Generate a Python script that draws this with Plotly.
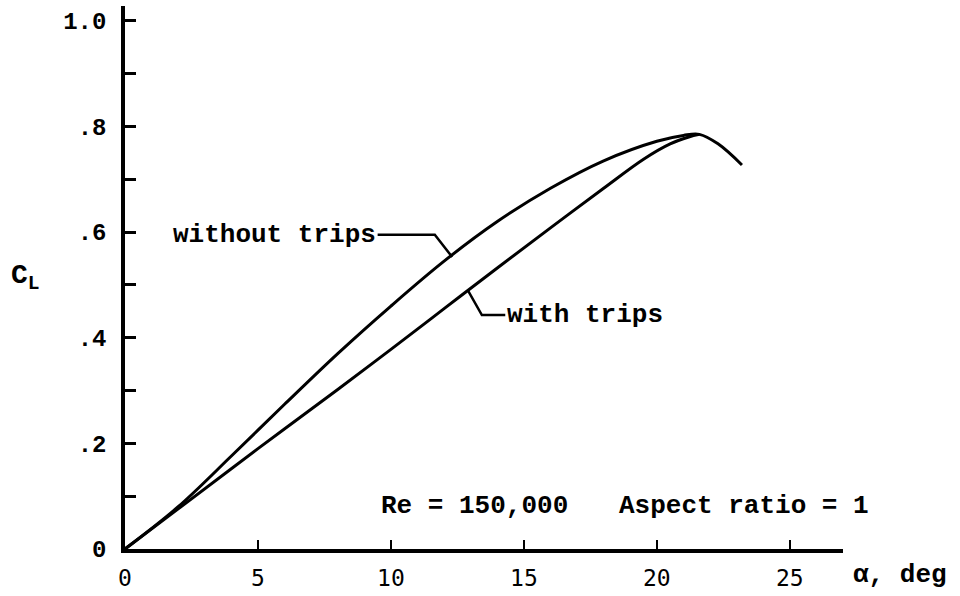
import plotly.graph_objects as go

# ---- data ----
alpha_without = [0, 2.0, 4.0, 6.0, 8.0, 10.0, 12.0, 14.0, 16.0, 18.0, 20.0, 21.0, 21.6, 22.3, 23.2]
cl_without    = [0, 0.080, 0.176, 0.274, 0.370, 0.460, 0.545, 0.620, 0.683, 0.735, 0.772, 0.783, 0.785, 0.767, 0.727]

alpha_with = [0, 2.0, 5.0, 8.0, 10.0, 12.0, 14.0, 16.0, 18.0, 19.5, 20.5, 21.2, 21.6]
cl_with    = [0, 0.076, 0.190, 0.302, 0.378, 0.455, 0.532, 0.608, 0.683, 0.738, 0.767, 0.780, 0.785]

y_tickvals = [0, 0.2, 0.4, 0.6, 0.8, 1.0]
y_ticktext = ["0", ".2", ".4", ".6", ".8", "1.0"]
x_tickvals = [0, 5, 10, 15, 20, 25]
x_ticktext = ["0", "5", "10", "15", "20", "25"]

label_without = "without trips"
label_with = "with trips"
note_re = "Re = 150,000"
note_ar = "Aspect ratio = 1"

# annotation anchor points (data coords)
without_leader = [(9.50, 0.595), (11.65, 0.595), (12.3, 0.553)]
with_leader = [(12.9, 0.489), (13.42, 0.443), (14.30, 0.443)]

MONO = "Liberation Mono"

fig = go.Figure()
for xs, ys in [(alpha_without, cl_without), (alpha_with, cl_with)]:
    fig.add_trace(go.Scatter(x=xs, y=ys, mode="lines",
                             line=dict(color="black", width=3, shape="spline", smoothing=1.0),
                             showlegend=False, hoverinfo="skip"))

def path(pts):
    return "M " + " L ".join(f"{x},{y}" for x, y in pts)

for pts in (without_leader, with_leader):
    fig.add_shape(type="path", path=path(pts), xref="x", yref="y",
                  line=dict(color="black", width=2.5))

tfont = dict(family=MONO, size=26, color="black", weight="bold")
fig.add_annotation(x=without_leader[0][0], y=without_leader[0][1], text=label_without,
                   xanchor="right", yanchor="middle", showarrow=False, font=tfont)
fig.add_annotation(x=with_leader[2][0], y=with_leader[2][1], text=label_with,
                   xanchor="left", yanchor="middle", showarrow=False, font=tfont)
fig.add_annotation(x=9.55, y=0.081, text=note_re, xanchor="left", yanchor="middle",
                   showarrow=False, font=tfont)
fig.add_annotation(x=18.5, y=0.081, text=note_ar, xanchor="left", yanchor="middle",
                   showarrow=False, font=tfont)
fig.add_annotation(x=1.079, y=-0.048, xref="paper", yref="paper", text="α, deg",
                   xanchor="center", yanchor="middle", showarrow=False, font=tfont)
fig.add_annotation(x=-0.139, y=0.50, xref="paper", yref="paper", text="C<sub>L</sub>",
                   xanchor="center", yanchor="middle", showarrow=False,
                   font=dict(family=MONO, size=28, color="black", weight="bold"))

fig.update_xaxes(range=[0, 27], showline=True, linecolor="black", linewidth=3.5,
                 showgrid=False, zeroline=False, ticks="inside", ticklen=9, tickwidth=2,
                 tickcolor="black", tickvals=x_tickvals, ticktext=x_ticktext,
                 tickfont=dict(family="DejaVu Sans Mono", size=23, color="black"),
                 ticklabelstandoff=6)
fig.update_yaxes(range=[0, 1.028], showline=True, linecolor="black", linewidth=3.5,
                 showgrid=False, zeroline=False, ticks="inside", ticklen=11, tickwidth=3,
                 tickcolor="black", tickvals=y_tickvals, ticktext=y_ticktext,
                 tickfont=dict(family=MONO, size=24, color="black", weight="bold"),
                 ticklabelstandoff=10,
                 minor=dict(tickvals=[0.1, 0.3, 0.5, 0.7, 0.9], ticks="inside",
                            ticklen=11, tickwidth=3, tickcolor="black", showgrid=False))

fig.update_layout(width=960, height=596, margin=dict(l=125, r=117, t=6, b=47),
                  plot_bgcolor="white", paper_bgcolor="white")

fig.write_html("out.html")
